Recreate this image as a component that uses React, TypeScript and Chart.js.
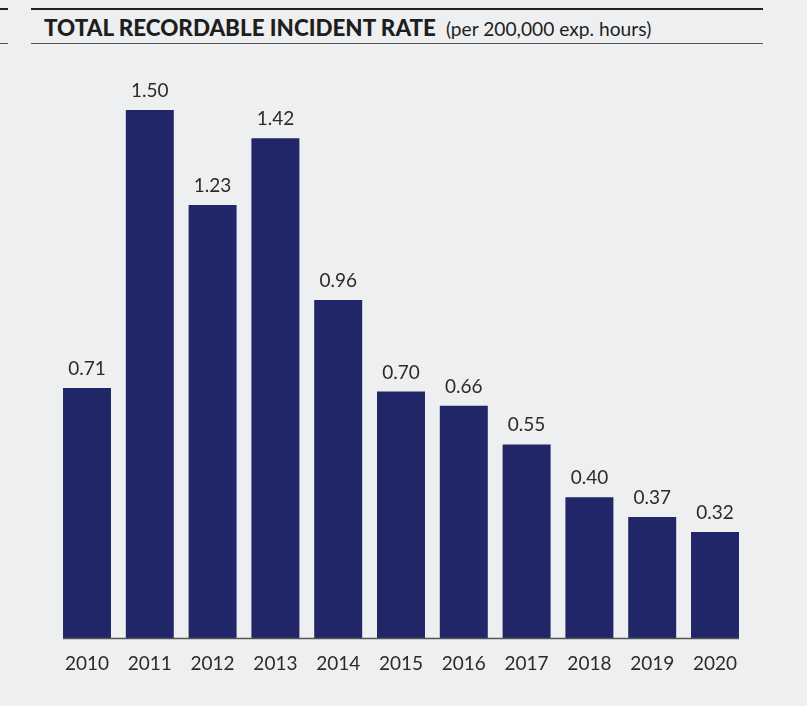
import React, { useEffect, useRef } from "react";
import { Chart, registerables } from "chart.js";

Chart.register(...registerables);

const years = ["2010", "2011", "2012", "2013", "2014", "2015", "2016", "2017", "2018", "2019", "2020"];
// bar heights as measured in the picture
const barHeights = [0.71, 1.5, 1.23, 1.42, 0.96, 0.7, 0.66, 0.55, 0.4, 0.344, 0.301];
// printed value labels
const valueTexts = ["0.71", "1.50", "1.23", "1.42", "0.96", "0.70", "0.66", "0.55", "0.40", "0.37", "0.32"];
const titleBold = "TOTAL RECORDABLE INCIDENT RATE";
const titleNormal = "(per 200,000 exp. hours)";

const FONT = "Lato, 'Open Sans', sans-serif";
const BG = "#eeeff1";
const BAR = "#202667";
const TEXT = "#2b2b2b";

const valueLabels = {
  id: "valueLabels",
  afterDatasetsDraw(chart: any) {
    const ctx = chart.ctx;
    const meta = chart.getDatasetMeta(0);
    ctx.save();
    ctx.font = `19px ${FONT}`;
    ctx.fillStyle = TEXT;
    ctx.textAlign = "center";
    ctx.textBaseline = "alphabetic";
    meta.data.forEach((bar: any, i: number) => {
      ctx.fillText(valueTexts[i], bar.x, bar.y - 13);
    });
    const first: any = meta.data[0];
    const last: any = meta.data[meta.data.length - 1];
    const y = chart.scales.y.getPixelForValue(0);
    ctx.strokeStyle = "#555";
    ctx.lineWidth = 1.5;
    ctx.beginPath();
    ctx.moveTo(first.x - first.width / 2, y + 0.5);
    ctx.lineTo(last.x + last.width / 2, y + 0.5);
    ctx.stroke();
    ctx.restore();
  },
};

export default function App() {
  const ref = useRef<HTMLCanvasElement>(null);
  useEffect(() => {
    if (!ref.current) return;
    const chart = new Chart(ref.current, {
      type: "bar",
      data: {
        labels: years,
        datasets: [
          {
            data: barHeights,
            backgroundColor: BAR,
            barPercentage: 0.764,
            categoryPercentage: 1,
          },
        ],
      },
      options: {
        animation: false,
        responsive: false,
        maintainAspectRatio: false,
        layout: { padding: { left: 55.6, right: 60.6, top: 74.8, bottom: 28 } },
        plugins: { legend: { display: false }, tooltip: { enabled: false } },
        scales: {
          y: { display: false, min: 0, max: 1.6 },
          x: {
            grid: { display: false, drawTicks: false },
            border: { display: false },
            ticks: { color: TEXT, font: { family: FONT, size: 19 }, padding: 14 },
            afterFit: (s: any) => {
              s.height = 40;
            },
          },
        },
      },
      plugins: [valueLabels],
    });
    return () => chart.destroy();
  }, []);

  return (
    <div style={{ position: "fixed", left: 0, top: 0, width: 807, height: 706, background: BG, overflow: "hidden" }}>
      <div style={{ position: "absolute", left: 0, top: 8, width: 8, height: 2, background: "#222" }} />
      <div style={{ position: "absolute", left: 0, top: 42.5, width: 8, height: 1.5, background: "#555" }} />
      <div style={{ position: "absolute", left: 31, top: 8, width: 732, height: 2, background: "#222" }} />
      <div style={{ position: "absolute", left: 31, top: 42.5, width: 732, height: 1.5, background: "#555" }} />
      <div
        style={{
          position: "absolute",
          left: 44,
          top: 17,
          whiteSpace: "nowrap",
          fontFamily: FONT,
          color: "#1e1e1e",
          lineHeight: "22.4px",
        }}
      >
        <span style={{ fontWeight: 900, fontSize: 22.4 }}>{titleBold}</span>
        <span style={{ fontSize: 19.2, marginLeft: 10 }}>{titleNormal}</span>
      </div>
      <canvas ref={ref} width={807} height={706} style={{ position: "absolute", left: 0, top: 0 }} />
    </div>
  );
}
